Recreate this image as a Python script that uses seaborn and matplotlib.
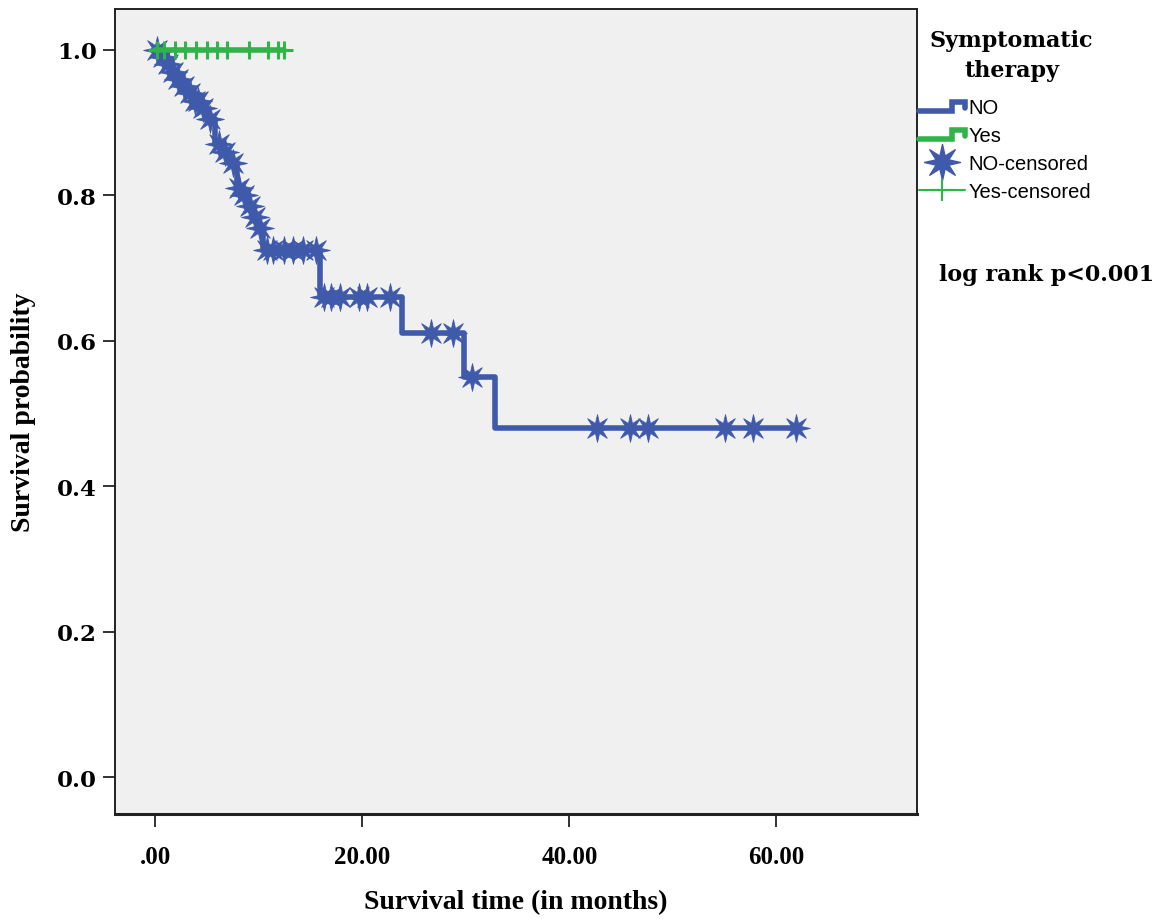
import numpy as np
import pandas as pd
import matplotlib
matplotlib.use("Agg")
import matplotlib.pyplot as plt
import seaborn as sns
from matplotlib.lines import Line2D
from matplotlib.legend_handler import HandlerBase
from matplotlib.path import Path

# ---- data ----
no_event_times = [0, 0.5, 1.0, 1.5, 2.0, 2.5, 3.0, 3.6, 4.3, 5.0, 5.8, 6.4, 7.1,
                  7.9, 8.4, 8.9, 9.4, 9.9, 10.4, 15.9, 23.8, 29.8, 32.8]
no_surv = [1.0, 0.99, 0.98, 0.97, 0.96, 0.95, 0.94, 0.93, 0.92, 0.905, 0.87, 0.86,
           0.845, 0.81, 0.80, 0.785, 0.77, 0.755, 0.725, 0.66, 0.61, 0.55, 0.48]
no_end_time = 62.0
no_censor_times = [0.2, 0.7, 1.2, 1.7, 2.2, 2.8, 3.3, 3.8, 4.1, 4.6, 5.3, 6.1, 6.7,
                   7.5, 8.1, 8.6, 9.1, 9.6, 10.1, 10.8, 11.4, 12.4, 13.3, 14.3, 15.5,
                   16.3, 17.0, 17.8, 19.7, 20.4, 22.7, 26.6, 28.8, 30.6, 42.7, 45.9,
                   47.6, 55.0, 57.7, 61.9]
yes_event_times = [0]
yes_surv = [1.0]
yes_end_time = 12.4
yes_censor_times = [0.2, 0.8, 1.9, 2.9, 3.9, 5.0, 6.0, 6.9, 9.0, 10.9, 11.8, 12.4]

x_ticks = [0, 20, 40, 60]
x_tick_labels = [".00", "20.00", "40.00", "60.00"]
y_ticks = [0.0, 0.2, 0.4, 0.6, 0.8, 1.0]
y_tick_labels = ["0.0", "0.2", "0.4", "0.6", "0.8", "1.0"]

BLUE = "#3f59ab"
GREEN = "#2fb44a"
BG = "#f0f0f0"


def step_frame(times, surv, end):
    t = list(times) + [end]
    s = list(surv) + [surv[-1]]
    return pd.DataFrame({"time": t, "surv": s})


def surv_at(times, surv, ct):
    idx = np.searchsorted(np.array(times), np.array(ct), side="right") - 1
    return np.array(surv)[idx]


def star_path(n=8, inner=0.38):
    ang = np.pi / 2 + np.arange(2 * n) * np.pi / n
    r = np.where(np.arange(2 * n) % 2 == 0, 1.0, inner)
    verts = np.column_stack([r * np.cos(ang), r * np.sin(ang)])
    verts = np.vstack([verts, verts[:1]])
    codes = [Path.MOVETO] + [Path.LINETO] * (2 * n - 1) + [Path.CLOSEPOLY]
    return Path(verts, codes)


STAR = star_path()

sns.set_theme(style="white")
plt.rcParams["font.family"] = ["DejaVu Serif", "DejaVu Sans"]
plt.rcParams["text.color"] = "black"
plt.rcParams["axes.labelcolor"] = "black"
plt.rcParams["xtick.color"] = "black"
plt.rcParams["ytick.color"] = "black"

fig = plt.figure(figsize=(11.64, 9.20), dpi=100)
ax = fig.add_axes([0.0988, 0.114, 0.6892, 0.875])
ax.set_facecolor(BG)

no_df = step_frame(no_event_times, no_surv, no_end_time)
yes_df = step_frame(yes_event_times, yes_surv, yes_end_time)

sns.lineplot(data=no_df, x="time", y="surv", ax=ax, color=BLUE, lw=4.0,
             drawstyle="steps-post", estimator=None, sort=False, zorder=2)
no_c = pd.DataFrame({"time": no_censor_times,
                     "surv": surv_at(no_event_times, no_surv, no_censor_times)})
ax.plot(no_c["time"], no_c["surv"], ls="none", marker=STAR, ms=20,
        color=BLUE, mec=BLUE, mew=0.6, zorder=3)

sns.lineplot(data=yes_df, x="time", y="surv", ax=ax, color=GREEN, lw=4.0,
             drawstyle="steps-post", estimator=None, sort=False, zorder=4)
yes_c = pd.DataFrame({"time": yes_censor_times,
                      "surv": surv_at(yes_event_times, yes_surv, yes_censor_times)})
ax.plot(yes_c["time"], yes_c["surv"], ls="none", marker="+", ms=13, mew=2.2,
        color=GREEN, zorder=5)

ax.set_xlim(-3.9, 73.6)
ax.set_ylim(-0.051, 1.056)
ax.set_xticks(x_ticks)
ax.set_xticklabels(x_tick_labels, family="Liberation Serif", fontweight="bold",
                   fontsize=18, color="black")
ax.set_yticks(y_ticks)
ax.set_yticklabels(y_tick_labels, family="DejaVu Serif", fontweight="bold",
                   fontsize=16.5, color="black")
ax.tick_params(axis="both", direction="out", length=9, width=1.3, color="#222222",
               bottom=True, left=True, pad=4)
ax.tick_params(axis="x", pad=13)
for sp in ax.spines.values():
    sp.set_color("#222222")
    sp.set_linewidth(1.4)
ax.spines["bottom"].set_linewidth(2.2)

ax.set_xlabel("Survival time (in months)", family="Liberation Serif",
              fontweight="bold", fontsize=20, color="black")
ax.set_ylabel("Survival probability", family="Liberation Serif",
              fontweight="bold", fontsize=20, color="black")
ax.xaxis.set_label_coords(0.5, -0.093)
ax.yaxis.set_label_coords(-0.098, 0.5)


# legend with step-shaped icons
class HandlerStep(HandlerBase):
    def create_artists(self, legend, orig_handle, x0, y0, w, h, fontsize, trans):
        xs = [x0, x0 + 0.72 * w, x0 + 0.72 * w, x0 + w, x0 + w]
        ys = [y0 + 0.15 * h, y0 + 0.15 * h, y0 + 0.75 * h, y0 + 0.75 * h, y0 + 0.35 * h]
        ln = Line2D(xs, ys, color=orig_handle.get_color(), lw=4, transform=trans,
                    solid_joinstyle="miter")
        return [ln]


class StepKey:
    def __init__(self, color):
        self.color = color

    def get_color(self):
        return self.color


h_no = StepKey(BLUE)
h_yes = StepKey(GREEN)
h_noc = Line2D([], [], ls="none", marker=STAR, ms=26, color=BLUE)
h_yesc = Line2D([], [], ls="-", lw=1.5, marker="+", ms=16, mew=1.5, color=GREEN)

leg = fig.legend([h_no, h_yes, h_noc, h_yesc],
                 ["NO", "Yes", "NO-censored", "Yes-censored"],
                 handler_map={StepKey: HandlerStep()},
                 loc="upper left", bbox_to_anchor=(0.786, 0.897),
                 frameon=False, prop={"family": "Liberation Sans", "size": 14.5},
                 handlelength=2.3, handletextpad=0.15, labelspacing=0.45,
                 borderaxespad=0, borderpad=0.2, labelcolor="black")

fig.text(0.869, 0.939, "Symptomatic\ntherapy", ha="center", va="center",
         family="DejaVu Serif", fontweight="bold", fontsize=16, linespacing=1.45,
         color="black")
fig.text(0.8995, 0.701, "log rank p<0.001", ha="center", va="center",
         family="DejaVu Serif", fontweight="bold", fontsize=16, color="black")

fig.savefig("out.png", dpi=100, facecolor="white")
